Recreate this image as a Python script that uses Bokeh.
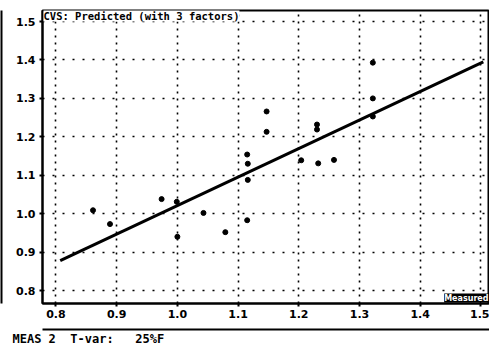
from bokeh.plotting import figure
from bokeh.models import Range1d, LinearAxis, FixedTicker, Label, Title
from bokeh.embed import file_html
from bokeh.resources import INLINE

# Measured vs predicted values
meas_x = [0.861, 0.889, 0.974, 0.999, 1.000, 1.043, 1.079, 1.115, 1.116, 1.116, 1.115,
          1.147, 1.147, 1.230, 1.230, 1.204, 1.232, 1.258, 1.322, 1.322, 1.322]
pred_y = [1.009, 0.973, 1.038, 1.031, 0.940, 1.002, 0.952, 1.154, 1.130, 1.088, 0.983,
          1.266, 1.213, 1.232, 1.219, 1.139, 1.131, 1.140, 1.393, 1.300, 1.253]

# Fitted prediction line end points
fit_x = [0.807, 1.504]
fit_y = [0.878, 1.395]

x_ticks = [0.8, 0.9, 1.0, 1.1, 1.2, 1.3, 1.4, 1.5]
x_tick_labels = ["0.8", "0.9", "1.0", "1.1", "1.2", "1.3", "1.4", "1.5"]
y_ticks = [0.8, 0.9, 1.0, 1.1, 1.2, 1.3, 1.4, 1.5]
y_tick_labels = ["0.8", "0.9", "1.0", "1.1", "1.2", "1.3", "1.4", "1.5"]

title_text = "CVS: Predicted (with 3 factors)"
status_text = "MEAS\u00a02\u00a0\u00a0T-var:\u00a0\u00a0\u00a025%F"
x_name = "Measured"

FONT = "DejaVu Sans"
NB = "\u00a0"

p = figure(width=489, height=345, output_backend="svg", toolbar_location=None,
           x_range=Range1d(0.7778, 1.5142), y_range=Range1d(0.7664, 1.5287),
           min_border_left=42, min_border_right=0, min_border_top=10,
           min_border_bottom=40)

p.background_fill_color = "white"
p.border_fill_color = "white"
p.outline_line_color = "black"
p.outline_line_width = 2

# grids
p.xgrid.ticker = FixedTicker(ticks=x_ticks)
p.ygrid.ticker = FixedTicker(ticks=y_ticks)
p.xgrid.grid_line_color = "black"
p.xgrid.grid_line_width = 1.6
p.xgrid.grid_line_dash = "2 5"
p.ygrid.grid_line_color = "black"
p.ygrid.grid_line_width = 1.6
p.ygrid.grid_line_dash = "2 8"

# axes
for ax, ticks, labels in ((p.xaxis[0], x_ticks, x_tick_labels), (p.yaxis[0], y_ticks, y_tick_labels)):
    ax.ticker = FixedTicker(ticks=ticks)
    ax.major_label_overrides = {t: l for t, l in zip(ticks, labels)}
    ax.axis_line_width = 2
    ax.axis_line_color = "black"
    ax.major_tick_line_width = 2
    ax.major_tick_out = 3
    ax.major_tick_in = 0
    ax.minor_tick_line_color = None
    ax.major_label_text_font = FONT
    ax.major_label_text_font_style = "bold"
    ax.major_label_text_font_size = "11px"
    ax.major_label_text_color = "black"
    ax.major_label_standoff = 2
    ax.axis_label = NB
    ax.axis_label_standoff = 0
    ax.axis_label_text_font_size = "6px"
p.xaxis[0].major_label_standoff = 3
p.yaxis[0].major_label_standoff = 4
p.yaxis[0].axis_label_text_font_size = "8px"

# extra axes drawn only for their rule lines
bottom_rule = LinearAxis(ticker=FixedTicker(ticks=[]), axis_line_width=2, axis_line_color="black",
                         major_tick_line_color=None, minor_tick_line_color=None)
p.add_layout(bottom_rule, "below")
left_rule = LinearAxis(ticker=FixedTicker(ticks=[]), axis_line_width=2, axis_line_color="black",
                       major_tick_line_color=None, minor_tick_line_color=None)
p.add_layout(left_rule, "left")

# status line
p.add_layout(Title(text=status_text, align="left", offset=-30, standoff=0,
                   text_font="DejaVu Sans Mono", text_font_style="bold", text_font_size="12px",
                   text_color="black"), "below")

# data
p.line(fit_x, fit_y, line_color="black", line_width=3)
p.scatter(meas_x, pred_y, size=5, color="black")

# title inside plot
p.add_layout(Label(x=1, y=294, x_units="screen", y_units="screen", text=title_text,
                   text_font="DejaVu Sans Mono", text_font_style="bold", text_font_size="10.5px",
                   text_baseline="top", text_align="left", text_color="black",
                   background_fill_color="white"))

# x name box bottom right
p.add_layout(Label(x=446, y=1, x_units="screen", y_units="screen", text=x_name,
                   text_font=FONT, text_font_style="bold", text_font_size="8px",
                   text_baseline="bottom", text_align="right", text_color="white",
                   background_fill_color="black"))

open("out.html", "w").write(file_html(p, INLINE))
